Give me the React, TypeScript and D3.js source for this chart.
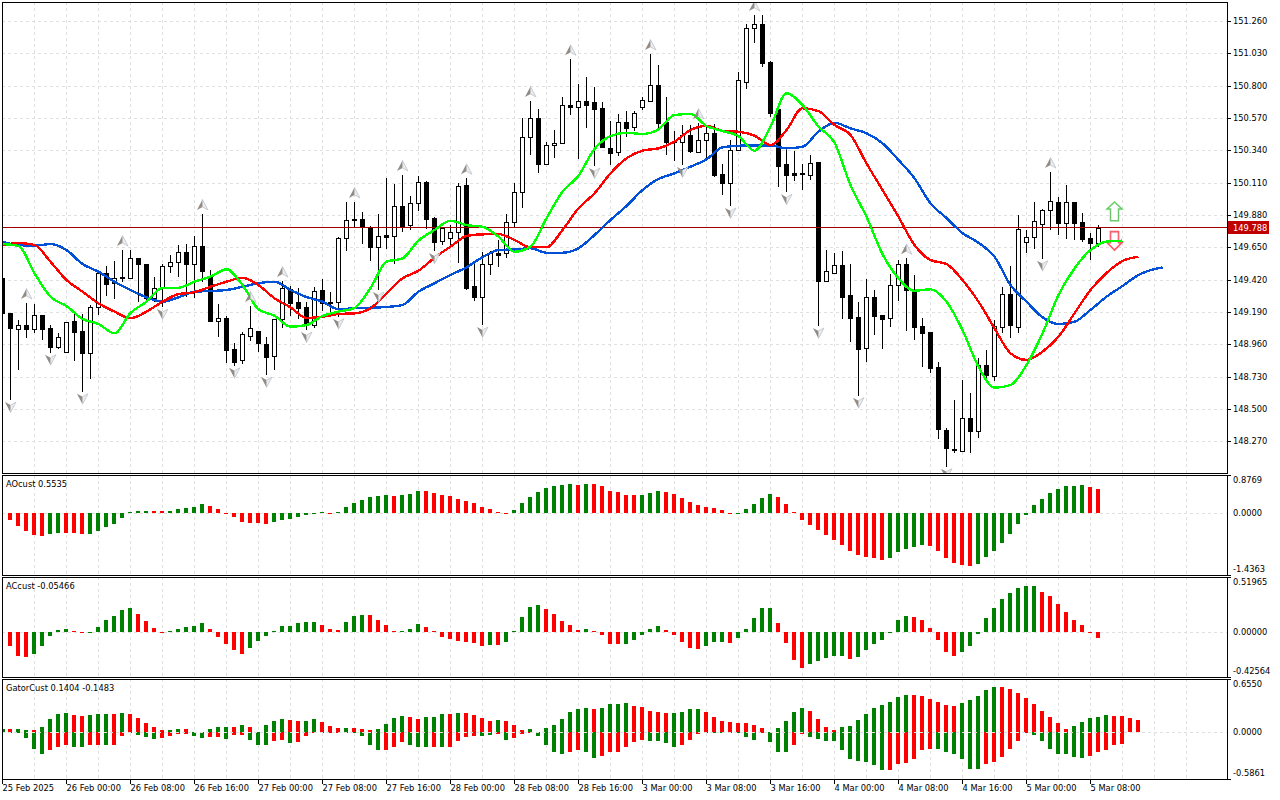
import React, { useEffect, useRef } from "react";
import * as d3 from "d3";

const opens = [
  149.431,149.180,149.066,149.095,149.071,149.168,149.074,148.943,148.907,149.123,
  149.052,148.900,149.223,149.465,149.394,149.438,149.433,149.571,149.529,149.287,
  149.358,149.515,149.543,149.614,149.533,149.657,149.446,149.128,149.145,148.924,
  148.846,149.021,149.052,148.962,148.874,149.137,149.351,149.258,149.223,149.097,
  149.346,149.263,149.263,149.714,149.849,149.849,149.787,149.654,149.737,149.732,
  149.941,149.806,149.963,150.114,149.856,149.697,149.714,149.756,150.091,149.372,
  149.294,149.529,149.607,149.607,149.828,150.041,150.432,150.567,150.244,150.375,
  150.390,150.660,150.646,150.688,150.683,150.639,150.356,150.326,150.539,150.508,
  150.650,150.693,150.802,150.539,150.406,150.401,150.449,150.330,150.411,150.461,
  150.171,150.109,150.340,150.828,151.208,151.236,150.968,150.631,150.242,150.176,
  150.178,150.166,150.254,149.412,149.465,149.524,149.308,149.152,148.931,149.294,
  149.168,149.145,149.379,149.529,149.346,149.090,149.045,148.796,148.350,148.215,
  148.203,148.433,148.345,148.810,148.736,149.085,149.315,149.085,149.690,149.725,
  149.818,149.917,149.974,149.820,149.970,149.830,149.716,149.682,
];
const highs = [
  149.445,149.182,149.133,149.253,149.246,149.168,149.097,149.038,149.120,149.175,
  149.175,149.239,149.476,149.517,149.552,149.630,149.630,149.571,149.529,149.438,
  149.531,149.595,149.666,149.673,149.730,149.887,149.488,149.246,149.161,148.967,
  149.049,149.232,149.052,149.014,149.142,149.410,149.377,149.362,149.263,149.369,
  149.424,149.334,149.721,149.972,149.972,149.903,149.801,149.887,150.141,150.100,
  150.164,150.015,150.157,150.121,149.863,149.796,149.808,150.105,150.141,149.536,
  149.618,149.626,149.702,149.887,150.105,150.567,150.691,150.634,150.397,150.484,
  150.717,150.987,150.811,150.863,150.788,150.683,150.550,150.598,150.619,150.619,
  150.719,151.025,150.944,150.719,150.477,150.518,150.520,150.534,150.520,150.527,
  150.242,150.413,150.895,151.238,151.302,151.302,150.975,150.631,150.342,150.333,
  150.242,150.306,150.257,149.630,149.607,149.623,149.531,149.258,149.422,149.346,
  149.168,149.460,149.559,149.571,149.453,149.145,149.045,148.834,148.362,148.563,
  148.706,148.611,148.860,148.919,149.133,149.369,149.517,149.880,149.773,149.974,
  149.920,150.185,150.010,150.093,149.970,149.892,149.749,149.810,
];
const lows = [
  149.175,148.563,148.777,149.007,149.040,148.990,148.900,148.926,148.907,148.843,
  148.622,148.715,149.168,149.303,149.280,149.405,149.429,149.263,149.251,149.263,
  149.225,149.467,149.441,149.298,149.291,149.405,149.120,149.014,148.829,148.807,
  148.820,148.985,148.905,148.741,148.777,149.074,149.161,149.140,149.061,149.074,
  149.199,149.161,149.156,149.626,149.796,149.673,149.554,149.346,149.638,149.531,
  149.759,149.773,149.908,149.780,149.623,149.666,149.643,149.540,149.346,149.270,
  149.097,149.453,149.512,149.576,149.792,149.931,150.306,150.180,150.240,150.283,
  150.382,150.591,150.278,150.498,150.228,150.354,150.235,150.301,150.437,150.479,
  150.626,150.691,150.484,150.306,150.264,150.235,150.318,150.328,150.283,150.152,
  150.022,149.944,150.337,150.778,151.105,150.934,150.575,150.081,150.041,150.121,
  150.057,150.128,149.090,149.410,149.460,149.142,148.978,148.594,148.836,149.028,
  148.928,149.085,149.268,149.056,148.990,148.796,148.758,148.288,148.089,148.184,
  148.196,148.189,148.295,148.686,148.701,149.038,149.007,149.042,149.607,149.640,
  149.569,149.773,149.737,149.709,149.702,149.690,149.559,149.650,
];
const closes = [
  149.182,149.074,149.095,149.071,149.166,149.071,148.943,149.009,149.120,149.049,
  148.900,149.223,149.465,149.391,149.433,149.433,149.571,149.533,149.287,149.358,
  149.515,149.543,149.614,149.533,149.657,149.483,149.125,149.145,148.919,148.836,
  149.031,149.074,148.967,148.871,149.137,149.358,149.256,149.220,149.097,149.341,
  149.251,149.256,149.714,149.842,149.842,149.792,149.654,149.728,149.725,149.941,
  149.803,149.963,150.112,149.853,149.690,149.787,149.756,150.084,149.358,149.298,
  149.529,149.607,149.597,149.828,150.041,150.432,150.567,150.244,150.375,150.390,
  150.660,150.650,150.688,150.664,150.636,150.361,150.323,150.539,150.501,150.603,
  150.698,150.802,150.536,150.401,150.399,150.446,150.337,150.411,150.461,150.164,
  150.109,150.340,150.838,151.208,151.238,150.963,150.607,150.230,150.166,150.166,
  150.171,150.252,149.412,149.479,149.524,149.298,149.149,148.928,149.294,149.163,
  149.142,149.379,149.529,149.344,149.085,149.042,148.793,148.359,148.224,148.206,
  148.433,148.345,148.810,148.743,149.092,149.315,149.097,149.778,149.725,149.835,
  149.913,149.977,149.825,149.970,149.825,149.711,149.682,149.788,
];

// moving averages, read every second bar
const lipsLine = [
  149.673,149.659,149.465,149.298,149.232,149.140,149.104,149.038,149.182,149.263,
  149.360,149.362,149.405,149.441,149.493,149.381,149.209,149.163,149.085,149.097,
  149.161,149.192,149.218,149.360,149.547,149.571,149.697,149.773,149.839,149.808,
  149.796,149.725,149.618,149.654,149.856,150.045,150.159,150.349,150.441,150.465,
  150.456,150.489,150.591,150.598,150.513,150.477,150.441,150.337,150.508,150.745,
  150.662,150.508,150.394,150.093,149.867,149.602,149.429,149.341,149.351,149.263,
  149.061,148.800,148.651,148.670,148.812,149.038,149.310,149.500,149.630,149.690,
  149.697,
];
const teethLine = [
  149.663,149.680,149.666,149.547,149.417,149.334,149.251,149.192,149.145,149.192,
  149.263,149.317,149.330,149.369,149.405,149.433,149.381,149.287,149.223,149.147,
  149.156,149.175,149.180,149.216,149.322,149.429,149.483,149.576,149.654,149.730,
  149.742,149.744,149.702,149.650,149.650,149.773,149.927,150.034,150.176,150.283,
  150.337,150.354,150.401,150.484,150.513,150.479,150.472,150.444,150.377,150.484,
  150.639,150.619,150.520,150.449,150.247,150.057,149.867,149.666,149.559,149.531,
  149.417,149.263,149.074,148.896,148.848,148.907,149.014,149.180,149.346,149.467,
  149.552,149.583,
];
const jawLine = [
  149.687,149.666,149.661,149.673,149.630,149.531,149.476,149.405,149.346,149.294,
  149.263,149.294,149.334,149.339,149.346,149.369,149.394,149.405,149.346,149.296,
  149.263,149.209,149.216,149.220,149.225,149.239,149.334,149.394,149.453,149.507,
  149.579,149.630,149.635,149.643,149.611,149.611,149.643,149.737,149.844,149.944,
  150.057,150.136,150.176,150.223,150.276,150.361,150.372,150.375,150.375,150.354,
  150.365,150.472,150.536,150.496,150.461,150.390,150.271,150.141,149.963,149.858,
  149.751,149.682,149.583,149.381,149.263,149.152,149.104,149.120,149.204,149.298,
  149.374,149.453,149.495,149.507,
];

// fractal bars
const upFractals = [3, 15, 25, 31, 35, 44, 50, 58, 66, 71, 81, 87, 94, 113, 131];
const downFractals = [1, 6, 10, 20, 29, 33, 38, 42, 47, 54, 60, 74, 85, 91, 98, 102, 107, 118, 130];

// AO from bar 1
const aoValues = [
  -0.154,-0.308,-0.409,-0.501,-0.524,-0.478,-0.455,-0.455,-0.455,-0.478,
  -0.478,-0.409,-0.316,-0.247,-0.108,0.015,0.046,0.046,0.046,0.046,
  0.046,0.093,0.116,0.139,0.216,0.170,0.093,-0.008,-0.085,-0.200,
  -0.224,-0.224,-0.247,-0.200,-0.154,-0.131,-0.085,-0.039,-0.023,0.023,
  -0.015,0.023,0.139,0.231,0.301,0.370,0.393,0.424,0.401,0.416,
  0.439,0.509,0.509,0.470,0.424,0.401,0.332,0.285,0.239,0.146,
  0.100,0.031,0.008,0.077,0.239,0.378,0.493,0.586,0.632,0.655,
  0.678,0.655,0.678,0.678,0.632,0.517,0.493,0.424,0.424,0.424,
  0.470,0.517,0.493,0.447,0.355,0.262,0.193,0.146,0.123,0.077,
  0.008,-0.008,0.100,0.216,0.355,0.447,0.378,0.216,0.031,-0.154,
  -0.270,-0.386,-0.501,-0.617,-0.732,-0.871,-0.964,-1.010,-1.033,-1.079,
  -1.033,-0.894,-0.825,-0.779,-0.732,-0.756,-0.871,-1.033,-1.149,-1.195,
  -1.218,-1.172,-1.010,-0.871,-0.686,-0.478,-0.247,-0.039,0.193,0.332,
  0.470,0.563,0.632,0.632,0.655,0.609,0.5535,
];
// colour runs: red, green, red, green...
const aoRuns = [5,2,3,8,2,5,8,7,1,7,1,3,11,8,1,1,6,3,9,5,14,5,6,14,2];

// AC from bar 1
const acValues = [
  -0.136,-0.231,-0.240,-0.205,-0.136,-0.035,0.019,0.032,0.009,-0.013,
  -0.003,0.051,0.117,0.155,0.212,0.231,0.174,0.107,0.041,-0.006,
  0.009,0.032,0.051,0.060,0.088,0.032,-0.044,-0.111,-0.167,-0.205,
  -0.149,-0.082,-0.035,0.009,0.060,0.060,0.088,0.098,0.098,0.070,
  0.032,0.022,0.098,0.155,0.164,0.164,0.117,0.070,0.009,0.009,
  0.028,0.079,0.051,0.013,-0.044,-0.063,-0.082,-0.092,-0.101,-0.130,
  -0.120,-0.120,-0.092,0.013,0.145,0.240,0.259,0.221,0.174,0.107,
  0.070,0.022,0.032,0.009,-0.025,-0.111,-0.111,-0.111,-0.073,-0.025,
  0.032,0.060,0.022,-0.025,-0.092,-0.149,-0.158,-0.130,-0.092,-0.092,
  -0.101,-0.054,0.032,0.136,0.231,0.231,0.088,-0.101,-0.262,-0.338,
  -0.300,-0.272,-0.243,-0.224,-0.224,-0.253,-0.234,-0.167,-0.111,-0.073,
  0.003,0.117,0.155,0.145,0.117,0.041,-0.073,-0.186,-0.224,-0.186,
  -0.130,-0.016,0.136,0.231,0.307,0.373,0.411,0.439,0.439,0.382,
  0.344,0.269,0.193,0.117,0.070,-0.013,-0.05466,
];
const acRuns = [3,5,2,6,4,5,5,9,3,3,4,3,8,1,1,5,5,1,4,5,5,3,1,5,4,5,1,7,6,10,8];

// Gator from bar 0
const gatorUpper = [
  0.037,0.029,0.029,0.017,0.017,0.054,0.154,0.216,0.228,0.203,
  0.191,0.203,0.216,0.216,0.216,0.228,0.216,0.166,0.104,0.054,
  0.017,0.017,0.029,0.029,0,0,0.029,0.054,0.054,0.054,
  0.079,0.054,0,0.079,0.129,0.154,0.141,0.129,0.129,0.154,
  0.116,0.066,0.042,0.042,0.042,0.029,0.017,0.029,0.091,0.166,
  0.191,0.178,0.154,0.178,0.178,0.216,0.216,0.228,0.228,0.203,
  0.166,0.129,0.141,0.129,0.079,0.017,0.029,0,0.042,0.079,
  0.154,0.241,0.278,0.291,0.278,0.291,0.340,0.340,0.353,0.315,
  0.303,0.253,0.241,0.228,0.228,0.241,0.278,0.278,0.241,0.178,
  0.129,0.116,0.104,0.104,0.079,0.042,0,0.042,0.129,0.241,
  0.291,0.253,0.154,0.054,0.017,0.054,0.066,0.141,0.216,0.291,
  0.328,0.365,0.427,0.452,0.452,0.440,0.403,0.365,0.328,0.315,
  0.353,0.390,0.440,0.515,0.552,0.552,0.527,0.477,0.415,0.340,
  0.253,0.178,0.104,0.029,0.066,0.116,0.166,0.178,0.203,0.191,
  0.191,0.166,0.1404,
];
const gatorUpperRuns = [0,1,1,2,1,4,2,3,1,1,5,2,1,5,1,1,1,4,2,2,3,1,3,4,2,3,1,1,4,1,3,8,1,4,5,4,8,5,4,9,6,5,9,5,4];
const gatorLower = [
  -0.012,-0.012,-0.012,-0.083,-0.208,-0.270,-0.220,-0.183,-0.170,-0.183,
  -0.195,-0.170,-0.158,-0.170,-0.158,-0.058,-0.008,-0.046,-0.071,-0.095,
  -0.083,-0.058,-0.033,-0.033,-0.058,-0.083,-0.071,-0.071,-0.095,-0.046,
  -0.046,-0.108,-0.158,-0.158,-0.120,-0.108,-0.145,-0.133,-0.058,-0.008,
  -0.008,-0.008,-0.008,-0.021,-0.021,-0.058,-0.158,-0.232,-0.220,-0.183,
  -0.133,-0.170,-0.183,-0.195,-0.195,-0.195,-0.183,-0.120,-0.071,-0.058,
  -0.058,-0.046,-0.033,-0.108,-0.083,-0.033,-0.008,-0.058,-0.158,-0.257,
  -0.282,-0.245,-0.232,-0.257,-0.320,-0.295,-0.257,-0.245,-0.183,-0.133,
  -0.108,-0.120,-0.120,-0.145,-0.183,-0.170,-0.108,-0.033,-0.008,-0.012,
  -0.008,-0.008,-0.021,-0.071,-0.108,-0.008,-0.133,-0.245,-0.257,-0.170,
  -0.033,-0.071,-0.095,-0.120,-0.120,-0.220,-0.332,-0.357,-0.369,-0.407,
  -0.469,-0.469,-0.394,-0.382,-0.332,-0.232,-0.208,-0.208,-0.257,-0.282,
  -0.344,-0.457,-0.457,-0.394,-0.369,-0.307,-0.208,-0.120,-0.021,-0.046,
  -0.120,-0.208,-0.270,-0.282,-0.307,-0.320,-0.295,-0.257,-0.220,-0.170,
  -0.1483,
];
const gatorLowerRuns = [0,1,1,4,3,2,2,1,3,3,4,2,2,1,2,3,2,1,6,5,3,3,1,1,4,2,1,1,3,4,2,2,6,4,3,7,1,3,2,10,6,6,6,7,5];

const priceTicks = [151.26,151.03,150.8,150.57,150.34,150.11,149.88,149.65,149.42,149.19,148.96,148.73,148.5,148.27];
const lastPrice = 149.788;
const timeTickBars = [0, 8, 16, 24, 32, 40, 48, 56, 64, 72, 80, 88, 96, 104, 112, 120, 128, 136];
const timeLabels = [
  "25 Feb 2025","26 Feb 00:00","26 Feb 08:00","26 Feb 16:00","27 Feb 00:00","27 Feb 08:00",
  "27 Feb 16:00","28 Feb 00:00","28 Feb 08:00","28 Feb 16:00","3 Mar 00:00","3 Mar 08:00",
  "3 Mar 16:00","4 Mar 00:00","4 Mar 08:00","4 Mar 16:00","5 Mar 00:00","5 Mar 08:00",
];
const gridBars = d3.range(4, 150, 4);

const FONT = "DejaVu Sans, sans-serif";
const FONT_SIZE = 8.3;
const GREEN = "#008000";
const RED = "#ff0000";
const GRID = "#e0e0e0";

// expand alternating red/green run lengths into one colour per bar
const runsToColors = (runs: number[]) => {
  const out: string[] = [];
  runs.forEach((n, i) => {
    for (let k = 0; k < n; k++) out.push(i % 2 === 0 ? RED : GREEN);
  });
  return out;
};

const App: React.FC = () => {
  const svgRef = useRef<SVGSVGElement | null>(null);

  useEffect(() => {
    if (!svgRef.current) return;
    const svg = d3.select(svgRef.current);
    svg.selectAll("*").remove();

    const left = 2;
    const right = 1227;
    const panels = {
      main: { top: 2, bottom: 473 },
      ao: { top: 475, bottom: 575 },
      ac: { top: 577, bottom: 677 },
      gator: { top: 679, bottom: 779 },
    };

    const x = d3.scaleLinear().domain([0, 1]).range([2, 10]);
    const y = d3.scaleLinear().domain([148.044, 151.395]).range([473, 2]);
    const yAo = d3.scaleLinear().domain([-1.4363, 0.8769]).range([575, 475]);
    const yAc = d3.scaleLinear().domain([-0.42564, 0.51965]).range([677, 577]);
    const yGator = d3.scaleLinear().domain([-0.5861, 0.655]).range([779, 679]);

    const defs = svg.append("defs");
    defs
      .append("clipPath")
      .attr("id", "plot-clip")
      .append("rect")
      .attr("x", left + 1)
      .attr("y", panels.main.top + 1)
      .attr("width", right - left - 1)
      .attr("height", panels.main.bottom - panels.main.top - 1);

    // grid
    const grid = svg.append("g").attr("stroke", GRID).attr("stroke-dasharray", "3 3").attr("shape-rendering", "crispEdges");
    Object.values(panels).forEach((p) => {
      grid
        .append("g")
        .selectAll("line")
        .data(gridBars)
        .enter()
        .append("line")
        .attr("x1", (d) => x(d) + 0.5)
        .attr("x2", (d) => x(d) + 0.5)
        .attr("y1", p.top)
        .attr("y2", p.bottom);
    });
    grid
      .append("g")
      .selectAll("line")
      .data(priceTicks)
      .enter()
      .append("line")
      .attr("x1", left)
      .attr("x2", right)
      .attr("y1", (d) => Math.round(y(d)) + 0.5)
      .attr("y2", (d) => Math.round(y(d)) + 0.5);

    // candles
    const plot = svg.append("g").attr("clip-path", "url(#plot-clip)");
    const candles = plot
      .append("g")
      .attr("shape-rendering", "crispEdges")
      .selectAll("g")
      .data(opens.map((o, i) => i))
      .enter()
      .append("g");
    candles
      .append("line")
      .attr("x1", (i) => x(i) + 0.5)
      .attr("x2", (i) => x(i) + 0.5)
      .attr("y1", (i) => Math.round(y(highs[i])))
      .attr("y2", (i) => Math.round(y(lows[i])))
      .attr("stroke", "#000");
    candles
      .append("rect")
      .attr("x", (i) => x(i) - 1.5)
      .attr("width", 4)
      .attr("y", (i) => Math.round(y(Math.max(opens[i], closes[i]))) + 0.5)
      .attr("height", (i) => Math.max(1, Math.round(y(Math.min(opens[i], closes[i]))) - Math.round(y(Math.max(opens[i], closes[i])))))
      .attr("fill", (i) => (closes[i] > opens[i] ? "#fff" : "#000"))
      .attr("stroke", "#000");

    // last price line
    plot
      .append("line")
      .attr("x1", left)
      .attr("x2", right)
      .attr("y1", Math.round(y(lastPrice)) - 0.5)
      .attr("y2", Math.round(y(lastPrice)) - 0.5)
      .attr("stroke", "#a00000")
      .attr("shape-rendering", "crispEdges");

    // signal arrows on the last bars, under the averages
    const arrowBar = 139;
    const arrow = (tipPrice: number, tailPrice: number, neckPrice: number, color: string, inner: string) => {
      const cx = x(arrowBar) + 0.5;
      const tip = y(tipPrice);
      const tail = y(tailPrice);
      const neck = y(neckPrice);
      const shape = `M${cx},${tip}L${cx + 7.5},${neck}L${cx + 4},${neck}L${cx + 4},${tail}L${cx - 4},${tail}L${cx - 4},${neck}L${cx - 7.5},${neck}Z`;
      plot.append("path").attr("d", shape).attr("fill", "#fff").attr("stroke", color).attr("stroke-width", 1.6);
      plot.append("path").attr("d", shape).attr("fill", "none").attr("stroke", inner).attr("stroke-width", 0.6);
    };
    arrow(149.972, 149.839, 149.922, "#70e070", "#6fb06f");
    arrow(149.630, 149.761, 149.683, "#ff5060", "#f07080");

    // jaw, teeth, lips
    const lastJawBar = 145;
    const maLine = d3
      .line<number>()
      .x((d, j) => x(Math.min(j * 2, lastJawBar)) + 0.5)
      .y((d) => y(d))
      .curve(d3.curveMonotoneX);
    [
      { values: jawLine, color: "#0050d8" },
      { values: teethLine, color: "#ff0000" },
      { values: lipsLine, color: "#00ff00" },
    ].forEach((s) => {
      plot
        .append("path")
        .datum(s.values)
        .attr("fill", "none")
        .attr("stroke", s.color)
        .attr("stroke-width", 2.4)
        .attr("shape-rendering", "crispEdges")
        .attr("d", maLine);
    });

    // fractal markers, two halves each
    const fractal = (bars: number[], dir: number, base: number[], offset: number) => {
      const g = plot.append("g").selectAll("g").data(bars).enter().append("g")
        .attr("transform", (i) => `translate(${x(i) + 0.5},${y(base[i]) + offset})`);
      g.append("path")
        .attr("d", `M0,${-5.5 * dir}L-5.5,${5 * dir}L0,${2 * dir}Z`)
        .attr("fill", "#948a80");
      g.append("path")
        .attr("d", `M0,${-5.5 * dir}L5.5,${5 * dir}L0,${2 * dir}Z`)
        .attr("fill", "#ececec")
        .attr("stroke", "#b4bcc4")
        .attr("stroke-width", 0.7);
    };
    fractal(upFractals, 1, highs, -9);
    fractal(downFractals, -1, lows, 7);

    // oscillator panels
    const bars = (values: number[], colors: string[], start: number, scale: d3.ScaleLinear<number, number>) => {
      const zero = Math.round(scale(0));
      svg
        .append("g")
        .attr("shape-rendering", "crispEdges")
        .selectAll("rect")
        .data(values)
        .enter()
        .append("rect")
        .attr("x", (d, j) => Math.max(left + 1, x(start + j) - 2))
        .attr("width", (d, j) => (start + j === 0 ? 2 : 4))
        .attr("y", (d) => (d >= 0 ? Math.round(scale(d)) : zero))
        .attr("height", (d) => Math.max(d === 0 ? 0 : 1, Math.abs(Math.round(scale(d)) - zero)))
        .attr("fill", (d, j) => colors[j]);
    };
    const zeroLine = (scale: d3.ScaleLinear<number, number>) => {
      svg
        .append("line")
        .attr("x1", left)
        .attr("x2", right)
        .attr("y1", Math.round(scale(0)) + 0.5)
        .attr("y2", Math.round(scale(0)) + 0.5)
        .attr("stroke", GRID)
        .attr("stroke-dasharray", "3 3")
        .attr("shape-rendering", "crispEdges");
    };
    zeroLine(yAo);
    bars(aoValues, runsToColors(aoRuns), 1, yAo);
    zeroLine(yAc);
    bars(acValues, runsToColors(acRuns), 1, yAc);
    bars(gatorUpper, runsToColors(gatorUpperRuns), 0, yGator);
    bars(gatorLower, runsToColors(gatorLowerRuns), 0, yGator);
    zeroLine(yGator);

    // frames
    svg
      .append("g")
      .attr("fill", "none")
      .attr("stroke", "#000")
      .attr("shape-rendering", "crispEdges")
      .selectAll("rect")
      .data(Object.values(panels))
      .enter()
      .append("rect")
      .attr("x", left + 0.5)
      .attr("y", (p) => p.top + 0.5)
      .attr("width", right - left)
      .attr("height", (p) => p.bottom - p.top);

    // axes
    const styleAxis = (g: d3.Selection<SVGGElement, unknown, null, undefined>) => {
      g.select(".domain").remove();
      g.selectAll("text").attr("font-family", FONT).attr("font-size", FONT_SIZE).attr("fill", "#000");
      g.selectAll("line").attr("stroke", "#000").attr("shape-rendering", "crispEdges");
    };
    const axisG = (tx: number, ty: number) =>
      svg.append("g").attr("transform", `translate(${tx},${ty})`) as unknown as d3.Selection<SVGGElement, unknown, null, undefined>;

    const priceAxis = d3
      .axisRight(y)
      .tickValues(priceTicks)
      .tickSize(4)
      .tickPadding(2)
      .tickFormat((d) => (d as number).toFixed(3));
    axisG(right, 0).call(priceAxis).call(styleAxis);

    const sideAxis = (
      scale: d3.ScaleLinear<number, number>,
      ticks: number[],
      digits: number,
    ) => {
      const g = axisG(right, 0)
        .call(
          d3
            .axisRight(scale)
            .tickValues(ticks)
            .tickSize(4)
            .tickPadding(2)
            .tickFormat((d) => (d as number).toFixed(digits)),
        )
        .call(styleAxis);
      g.selectAll<SVGTextElement, number>("text").attr("transform", (d) =>
        d === ticks[0] ? "translate(0,5)" : d === ticks[2] ? "translate(0,-6)" : "translate(0,0)",
      );
      g.selectAll<SVGLineElement, number>("line").attr("display", (d) => (d === 0 ? "none" : null));
    };
    sideAxis(yAo, [0.8769, 0, -1.4363], 4);
    sideAxis(yAc, [0.51965, 0, -0.42564], 5);
    sideAxis(yGator, [0.655, 0, -0.5861], 4);

    const timeAxis = d3
      .axisBottom(x)
      .tickValues(timeTickBars)
      .tickSize(4)
      .tickPadding(0)
      .tickFormat((d, j) => timeLabels[j]);
    const timeG = axisG(0, panels.gator.bottom + 1).call(timeAxis).call(styleAxis);
    timeG.selectAll("text").attr("text-anchor", "start").attr("x", 0).attr("y", 5);

    // last price tag
    const tagY = Math.round(y(lastPrice));
    svg
      .append("rect")
      .attr("x", right + 1)
      .attr("y", tagY - 7)
      .attr("width", 41)
      .attr("height", 13)
      .attr("fill", "#c00000");
    svg
      .append("text")
      .attr("x", right + 6)
      .attr("y", tagY + 3)
      .attr("font-family", FONT)
      .attr("font-size", FONT_SIZE)
      .attr("fill", "#fff")
      .text(lastPrice.toFixed(3));

    // indicator captions
    const captions = [
      { label: "AOcust 0.5535", top: panels.ao.top },
      { label: "ACcust -0.05466", top: panels.ac.top },
      { label: "GatorCust 0.1404 -0.1483", top: panels.gator.top },
    ];
    svg
      .append("g")
      .selectAll("text")
      .data(captions)
      .enter()
      .append("text")
      .attr("x", 6)
      .attr("y", (d) => d.top + 12)
      .attr("font-family", FONT)
      .attr("font-size", FONT_SIZE)
      .attr("fill", "#000")
      .text((d) => d.label);
  }, []);

  return (
    <div style={{ position: "absolute", left: 0, top: 0, width: 1280, height: 800, background: "#fff" }}>
      <svg ref={svgRef} width={1280} height={800}></svg>
    </div>
  );
};

export default App;
